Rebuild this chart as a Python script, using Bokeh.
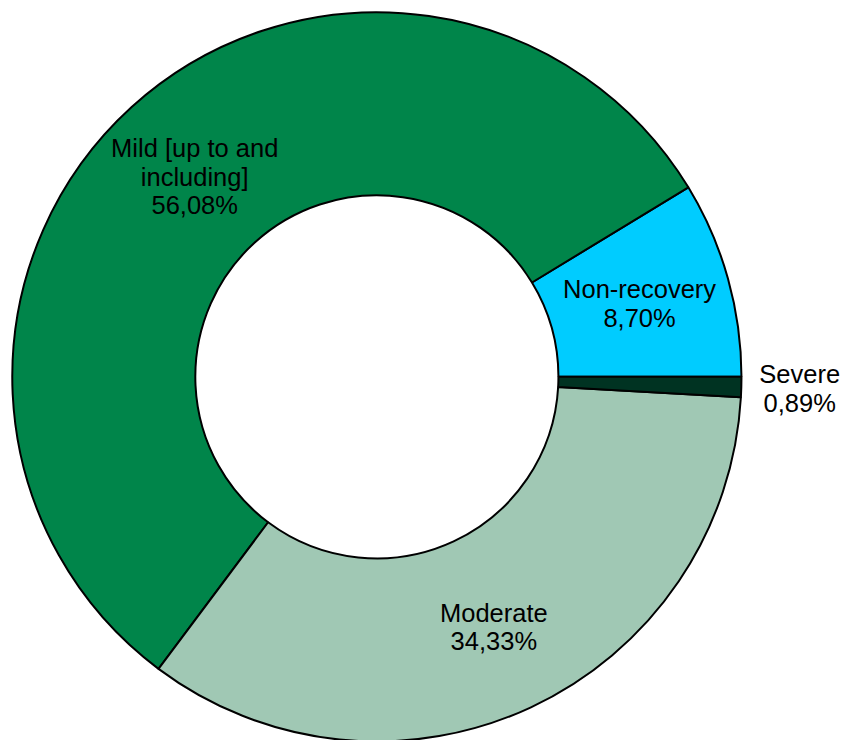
import numpy as np
from bokeh.plotting import figure
from bokeh.models import Range1d, ColumnDataSource
from bokeh.core.properties import value
from bokeh.embed import file_html
from bokeh.resources import INLINE

categories = ["Non-recovery", "Mild [up to and\nincluding]", "Moderate", "Severe"]
percents = [8.70, 56.08, 34.33, 0.89]
pct_labels = ["8,70%", "56,08%", "34,33%", "0,89%"]
colors = ["#00CCFF", "#00854A", "#A0C8B4", "#003322"]

vals = np.array(percents)
frac = vals / vals.sum()
ends = np.cumsum(frac) * 2 * np.pi
starts = np.concatenate([[0.0], ends[:-1]])
mids = (starts + ends) / 2

# geometry in reference-pixel units (861 x 756 canvas)
REF_W, REF_H = 861, 756
CX, CY = 383.5, 384.5
R_OUT = 371.5
R_IN = 185.0
r_lab = np.array([278.0, 276.0, 282.0, 431.0])

src = ColumnDataSource(dict(start=starts, end=ends, color=colors))
labels = [f"{c}\n{p}" for c, p in zip(categories, pct_labels)]
lsrc = ColumnDataSource(dict(
    x=r_lab * np.cos(mids), y=r_lab * np.sin(mids), text=labels,
))

W, H = 845, 740
p = figure(width=W, height=H, output_backend="svg", toolbar_location=None,
           x_range=Range1d(-CX, REF_W - CX), y_range=Range1d(-(REF_H - CY), CY),
           min_border=0)
p.axis.visible = False
p.grid.visible = False
p.outline_line_color = None
p.background_fill_color = "white"
p.border_fill_color = "white"

p.annular_wedge(x=0, y=0, inner_radius=R_IN, outer_radius=R_OUT,
                start_angle="start", end_angle="end", direction="anticlock",
                fill_color="color", line_color="black", line_width=2, source=src)

p.text(x="x", y="y", text="text", source=lsrc, text_align="center",
       text_baseline="middle", text_font=value("Liberation Sans"),
       text_font_size="25.5px", text_color="black", text_line_height=1.02)

open("out.html", "w").write(file_html(p, INLINE))
